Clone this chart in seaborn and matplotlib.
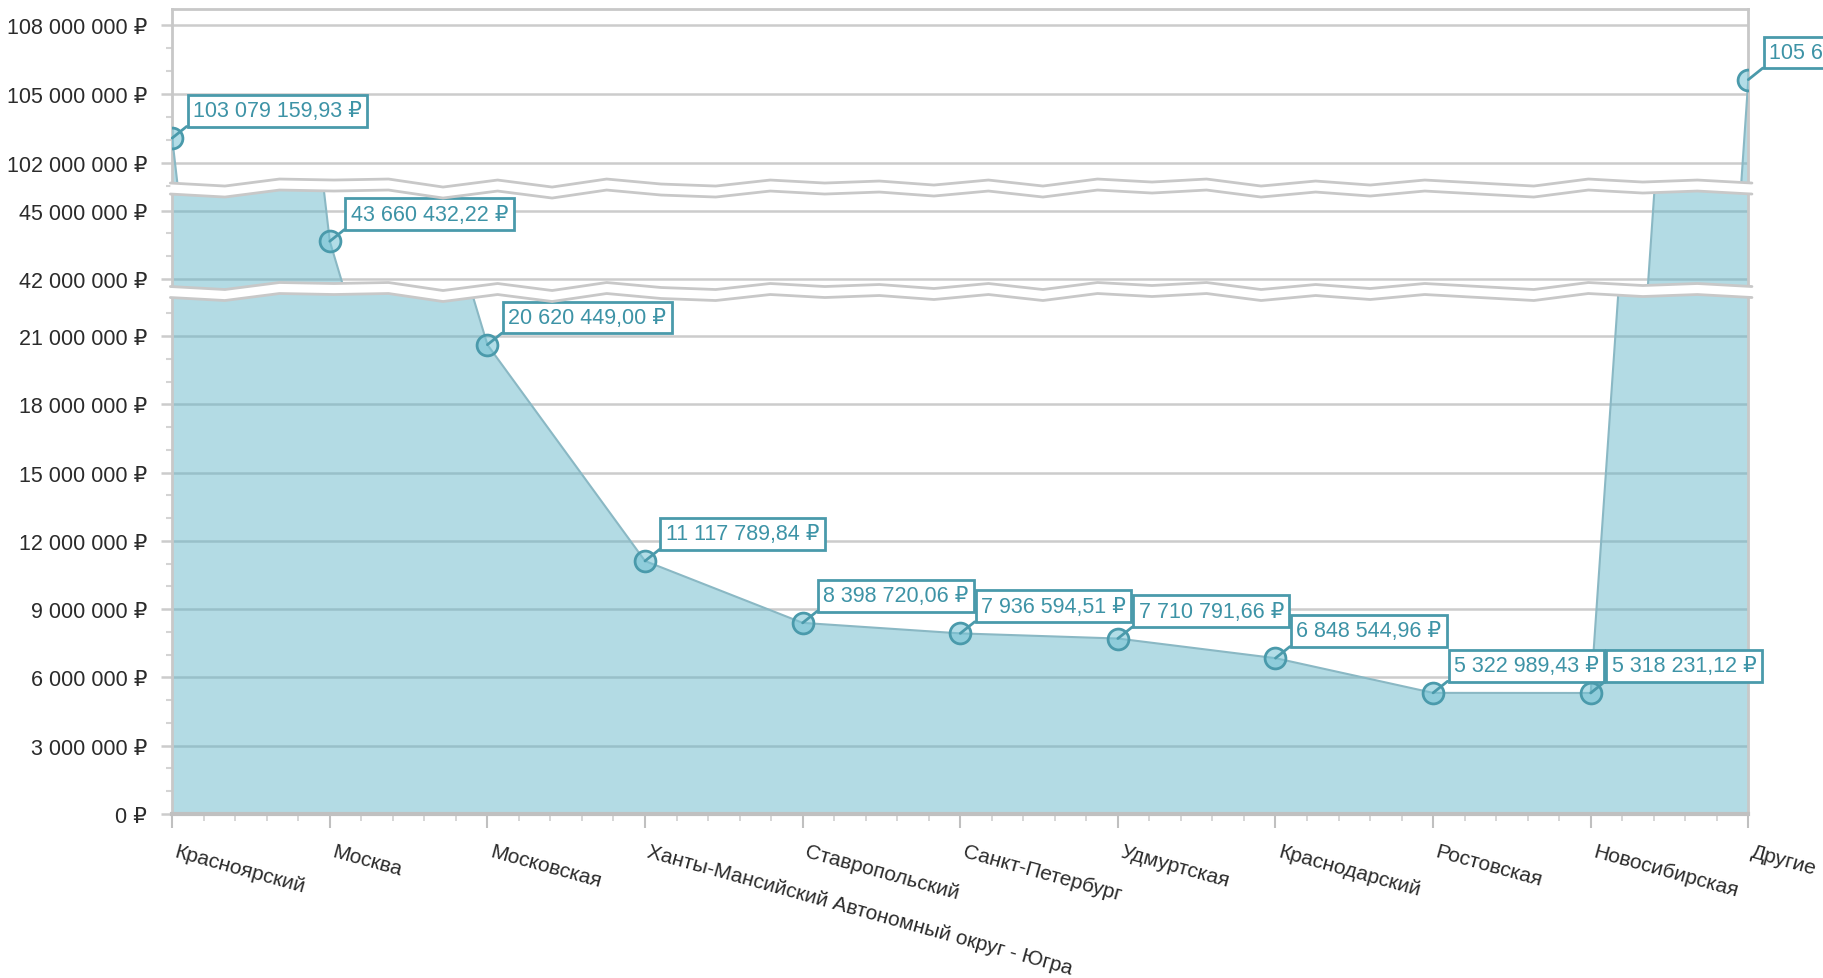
import numpy as np
import matplotlib.pyplot as plt
import matplotlib.ticker as mticker
from matplotlib.patches import Polygon
from matplotlib.lines import Line2D
from matplotlib.transforms import ScaledTranslation
import seaborn as sns

# data
regions = ["Красноярский", "Москва", "Московская",
           "Ханты-Мансийский Автономный округ - Югра", "Ставропольский",
           "Санкт-Петербург", "Удмуртская", "Краснодарский", "Ростовская",
           "Новосибирская", "Другие"]
amounts = [103079159.93, 43660432.22, 20620449.00, 11117789.84, 8398720.06,
           7936594.51, 7710791.66, 6848544.96, 5322989.43, 5318231.12,
           105612000.00]
# panel holding each point's label: 0 = top, 1 = middle, 2 = bottom
label_panel = [0, 1, 2, 2, 2, 2, 2, 2, 2, 2, 0]

# broken y axis: value ranges of the three panels
panel_ylims = [(100.89e6, 108.655e6), (41.44e6, 45.966e6), (0, 22.94e6)]

sns.set_theme(style="white")
plt.rcParams["font.family"] = ["Liberation Sans", "DejaVu Sans"]

FILL = "#5fb3c6"
LINE = "#8ab8c4"
TEAL = "#4a9aab"
TEXT_TEAL = "#3d93a6"
GRID = "#cccccc"

fig = plt.figure(figsize=(18.24, 9.79), dpi=100)
L, W = 0.0944, 0.8641
boxes = [[L, 0.8064, W, 0.1829], [L, 0.7007, W, 0.1057], [L, 0.1675, W, 0.5333]]
axes = [fig.add_axes(b) for b in boxes]

x = np.arange(len(regions))
y = np.array(amounts)


def rub(v, pos=None):
    return f"{v:,.0f} ₽".replace(",", " ")


for k, ax in enumerate(axes):
    ax.set_facecolor("none")
    ax.set_axisbelow(True)
    ax.grid(axis="y", which="major", color=GRID, lw=1.8)
    ax.fill_between(x, 0, y, color=FILL, alpha=0.47, lw=0, zorder=2)
    sns.lineplot(x=x, y=y, ax=ax, color=LINE, lw=1.5, zorder=3)
    ax.plot(x, y, "o", ms=15, mfc=(0.45, 0.76, 0.83, 0.55), mec=TEAL, mew=2, zorder=4)
    ax.set_xlim(0, 10)
    ax.set_ylim(*panel_ylims[k])
    ax.yaxis.set_major_locator(mticker.MultipleLocator(3e6))
    ax.yaxis.set_minor_locator(mticker.MultipleLocator(1e6))
    ax.yaxis.set_major_formatter(mticker.FuncFormatter(rub))
    ax.tick_params(axis="y", which="major", left=True, length=8, width=1.8,
                   color=GRID, labelsize=15.5, labelcolor="#2b2b2b", pad=10)
    ax.tick_params(axis="y", which="minor", left=True, length=4, width=1.5, color="#d4d4d4")
    for s in ["left", "right", "top"]:
        ax.spines[s].set_color("#c8c8c8")
        ax.spines[s].set_linewidth(2)
    ax.spines["bottom"].set_visible(False)
    if k > 0:
        ax.spines["top"].set_visible(False)
    if k < 2:
        ax.set_xticks([])
    ax.set_xlabel("")
    ax.set_ylabel("")

bot = axes[2]
bot.spines["bottom"].set_visible(True)
bot.spines["bottom"].set_color("#c0c0c0")
bot.spines["bottom"].set_linewidth(3)
bot.set_xticks(x)
bot.xaxis.set_minor_locator(mticker.MultipleLocator(0.2))
bot.tick_params(axis="x", which="major", bottom=True, length=10, width=1.5,
                color="#c0c0c0", pad=10)
bot.tick_params(axis="x", which="minor", bottom=True, length=5, width=1.2, color="#cfcfcf")
bot.set_xticklabels(regions, rotation=-15.5, ha="left", va="top",
                    rotation_mode="anchor", fontsize=15, color="#2b2b2b")
shift = ScaledTranslation(4 / 72, 0, fig.dpi_scale_trans)
for lab in bot.get_xticklabels():
    lab.set_transform(lab.get_transform() + shift)

# value labels
for i, v in enumerate(amounts):
    txt = f"{v:,.2f} ₽".replace(",", " ").replace(".", ",")
    axes[label_panel[i]].annotate(
        txt, xy=(i, v), xytext=(15, 12), textcoords="offset points",
        ha="left", va="bottom", fontsize=15.5, color=TEXT_TEAL, zorder=6,
        annotation_clip=False,
        bbox=dict(boxstyle="square,pad=0.25", fc="white", ec=TEAL, lw=2),
        arrowprops=dict(arrowstyle="-", color=TEAL, lw=2, relpos=(0, 0),
                        shrinkA=0, shrinkB=0))

# wavy break bands between panels
wobble = [0, -3, 4, 3, 4, -4, 3, -4, 4, -1, -3, 3, 0, 2, -2, 3, -3, 4, 1, 4,
          -3, 2, -2, 3, 0, -3, 4, 1, 3, 0]
wx = np.linspace(L - 0.001, L + W + 0.002, len(wobble))
H = 979.0
for yc in (0.8064, 0.7007):
    dy = np.array(wobble) / H
    upper = yc + 5.5 / H + dy
    lower = yc - 5.5 / H + dy
    poly = np.concatenate([np.column_stack([wx, upper]),
                           np.column_stack([wx[::-1], lower[::-1]])])
    fig.add_artist(Polygon(poly, closed=True, transform=fig.transFigure,
                           fc="white", ec="none", zorder=10))
    for edge in (upper, lower):
        fig.add_artist(Line2D(wx, edge, transform=fig.transFigure,
                              color="#c8c8c8", lw=2, zorder=11))

fig.savefig("out.png", dpi=100)
